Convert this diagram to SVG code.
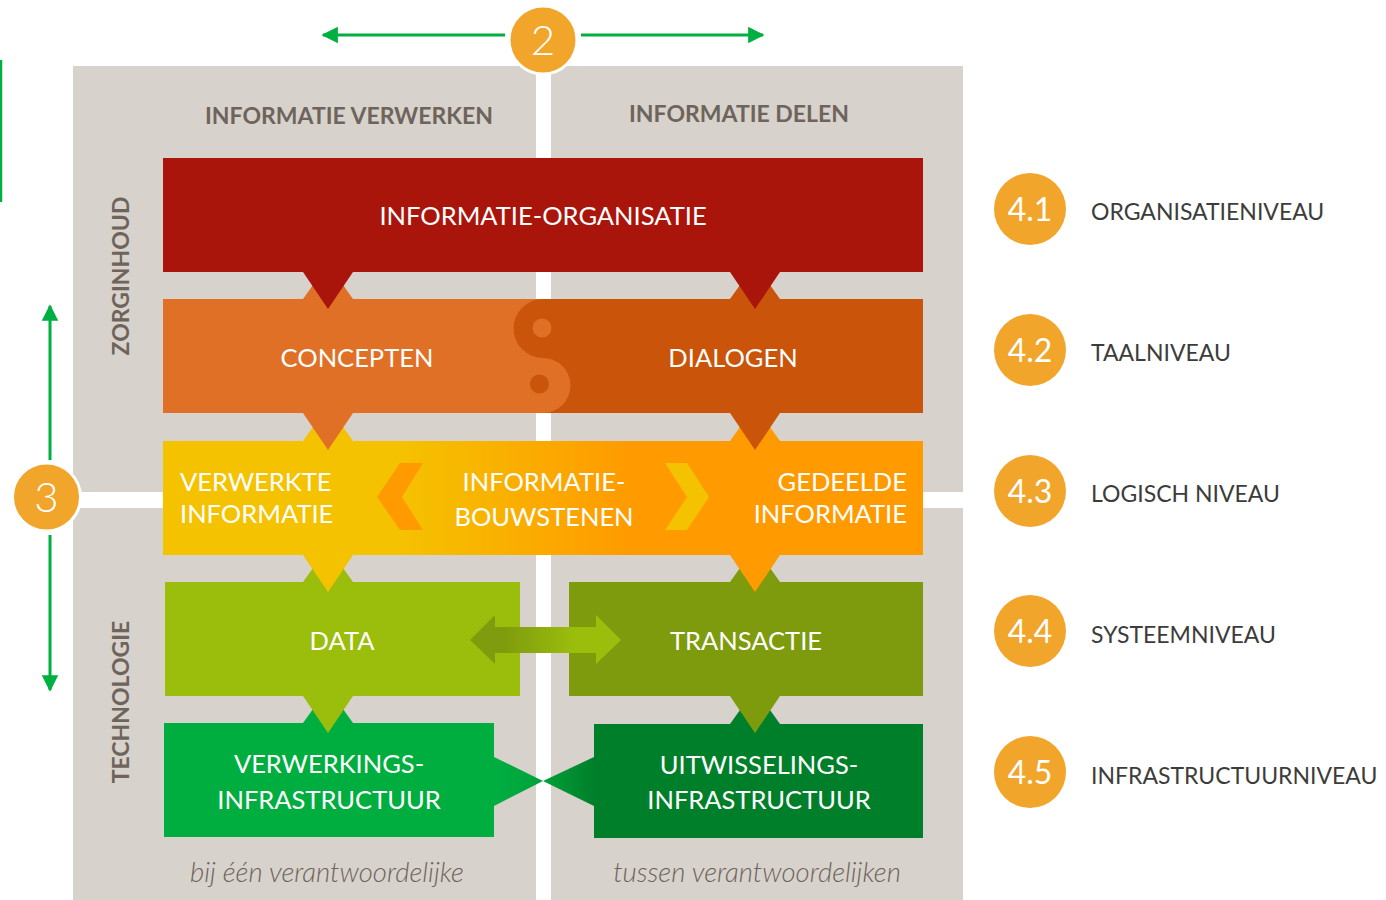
<svg xmlns="http://www.w3.org/2000/svg" width="1386" height="900" viewBox="0 0 1386 900">
<defs>
<style>
.band{font-family:Lato,"Noto Sans",sans-serif;font-size:25.5px;fill:#fff;}
.hdr{font-family:Lato,"Noto Sans",sans-serif;font-size:23px;font-weight:700;fill:#6E645B;}
.it{font-family:Lato,"Noto Sans",sans-serif;font-size:27.5px;font-style:italic;font-weight:300;fill:#6E645B;}
.lbl{font-family:Lato,"Noto Sans",sans-serif;font-size:23px;fill:#3C3C3B;}
.num{font-family:Lato,"Noto Sans",sans-serif;font-size:32px;fill:#fff;}
.big{font-family:Lato,"Noto Sans",sans-serif;font-size:42px;font-weight:300;fill:#fff;}
.circ{fill:#F2A52B;stroke:#fff;stroke-width:3;}
.garrow{stroke:#00AF41;stroke-width:3;fill:none;}
</style>
<linearGradient id="g3" gradientUnits="userSpaceOnUse" x1="163" y1="0" x2="923" y2="0">
<stop offset="0" stop-color="#F5C200"/><stop offset="0.31" stop-color="#F5C200"/><stop offset="0.62" stop-color="#FF9A00"/><stop offset="1" stop-color="#FF9A00"/>
</linearGradient>
<linearGradient id="garr" gradientUnits="userSpaceOnUse" x1="505" y1="0" x2="575" y2="0">
<stop offset="0" stop-color="#7F9C0E"/><stop offset="1" stop-color="#9BBE0C"/>
</linearGradient>
<linearGradient id="gbl" gradientUnits="userSpaceOnUse" x1="494" y1="0" x2="543" y2="0">
<stop offset="0" stop-color="#00AE40"/><stop offset="1" stop-color="#00A23A"/>
</linearGradient>
<linearGradient id="gbr" gradientUnits="userSpaceOnUse" x1="594" y1="0" x2="543" y2="0">
<stop offset="0" stop-color="#007F2B"/><stop offset="1" stop-color="#00A038"/>
</linearGradient>
<marker id="ah" viewBox="0 0 10 10" refX="9" refY="5" markerWidth="5.5" markerHeight="5.5" orient="auto" markerUnits="strokeWidth">
<path d="M0,0 L10,5 L0,10 Z" fill="#00AF41"/>
</marker>
</defs>
<rect width="1386" height="900" fill="#fff"/>

<g id="panels">
<rect x="73" y="66" width="890" height="834" fill="#D7D2CC"/>
<rect x="536" y="66" width="15" height="834" fill="#fff"/>
<rect x="60" y="492" width="903" height="16" fill="#fff"/>
<text class="hdr" x="349" y="124" text-anchor="middle">INFORMATIE VERWERKEN</text>
<text class="hdr" x="739" y="122" text-anchor="middle">INFORMATIE DELEN</text>
<text class="hdr" transform="translate(129,276) rotate(-90)" text-anchor="middle">ZORGINHOUD</text>
<text class="hdr" transform="translate(129,702) rotate(-90)" text-anchor="middle">TECHNOLOGIE</text>
<text class="it" x="327" y="882" text-anchor="middle">bij één verantwoordelijke</text>
<text class="it" x="757" y="882" text-anchor="middle">tussen verantwoordelijken</text>
</g>

<g id="connectors">
<line class="garrow" x1="505" y1="35" x2="323" y2="35" marker-end="url(#ah)"/>
<line class="garrow" x1="581" y1="35" x2="763" y2="35" marker-end="url(#ah)"/>
<line class="garrow" x1="50" y1="460" x2="50" y2="306" marker-end="url(#ah)"/>
<line class="garrow" x1="50" y1="535" x2="50" y2="690" marker-end="url(#ah)"/>
<line x1="1" y1="60" x2="1" y2="202" stroke="#00AF41" stroke-width="2.5"/>
</g>

<g id="organisatie">
<rect x="163" y="158" width="760" height="114" fill="#AA150B"/>
<text class="band" x="543" y="225" text-anchor="middle">INFORMATIE-ORGANISATIE</text>
</g>

<g id="concepten-dialogen">
<rect x="163" y="299" width="380" height="114" fill="#E07026"/>
<rect x="543" y="299" width="380" height="114" fill="#C9540A"/>
<polygon points="303,299 313,285 343,285 353,299" fill="#E07026"/>
<polygon points="730,299 740,285 770,285 780,299" fill="#C9540A"/>
<path d="M543,299 A29.5,29.5 0 0 0 543,358 Z" fill="#C9540A"/>
<path d="M543,358 A27.5,27.5 0 0 1 543,413 Z" fill="#E07026"/>
<circle cx="542" cy="328" r="9.5" fill="#E07026"/>
<circle cx="539.5" cy="384" r="9.5" fill="#C9540A"/>
<text class="band" x="357" y="367" text-anchor="middle">CONCEPTEN</text>
<text class="band" x="733" y="367" text-anchor="middle">DIALOGEN</text>
</g>

<g id="bouwstenen">
<rect x="163" y="441" width="760" height="114" fill="url(#g3)"/>
<polygon points="303,441 313,427 343,427 353,441" fill="url(#g3)"/>
<polygon points="730,441 740,427 770,427 780,441" fill="url(#g3)"/>
<polygon points="400,463 423,463 402,497 423,530 400,530 377,497" fill="#FF9A00"/>
<polygon points="665,463 687,463 709,497 687,530 665,530 687,497" fill="#F5C200"/>
<text class="band" x="180" y="491">VERWERKTE</text>
<text class="band" x="180" y="523">INFORMATIE</text>
<text class="band" x="544" y="491" text-anchor="middle">INFORMATIE-</text>
<text class="band" x="544" y="526" text-anchor="middle">BOUWSTENEN</text>
<text class="band" x="907" y="491" text-anchor="end">GEDEELDE</text>
<text class="band" x="907" y="523" text-anchor="end">INFORMATIE</text>
</g>

<g id="data">
<rect x="165" y="582" width="355" height="114" fill="#9BBE0C"/>
<polygon points="303,582 313,568 343,568 353,582" fill="#9BBE0C"/>
<text class="band" x="342" y="650" text-anchor="middle">DATA</text>
</g>

<g id="transactie">
<rect x="569" y="582" width="354" height="114" fill="#7D9B0D"/>
<polygon points="730,582 740,568 770,568 780,582" fill="#7D9B0D"/>
<text class="band" x="746" y="650" text-anchor="middle">TRANSACTIE</text>
</g>

<g id="data-transactie-arrow">
<polygon points="470,640 495,615 495,627 596,627 596,615 621,640 596,664 596,653 495,653 495,664" fill="url(#garr)"/>
</g>

<g id="verwerkings">
<rect x="164" y="723" width="330" height="114" fill="#00AE40"/>
<polygon points="303,723 313,709 343,709 353,723" fill="#00AE40"/>
<polygon points="494,757 543,781 494,806" fill="url(#gbl)"/>
<text class="band" x="329" y="773" text-anchor="middle">VERWERKINGS-</text>
<text class="band" x="329" y="809" text-anchor="middle">INFRASTRUCTUUR</text>
</g>

<g id="uitwisselings">
<rect x="594" y="724" width="329" height="114" fill="#007F2B"/>
<polygon points="730,724 740,710 770,710 780,724" fill="#007F2B"/>
<polygon points="594,757 543,781 594,806" fill="url(#gbr)"/>
<text class="band" x="759" y="774" text-anchor="middle">UITWISSELINGS-</text>
<text class="band" x="759" y="809" text-anchor="middle">INFRASTRUCTUUR</text>
</g>

<g id="triangles">
<polygon points="303,272 353,272 328,309" fill="#AA150B"/>
<polygon points="730,272 780,272 755,309" fill="#AA150B"/>
<polygon points="303,413 353,413 328,450" fill="#E07026"/>
<polygon points="730,413 780,413 755,450" fill="#C9540A"/>
<polygon points="303,555 353,555 328,592" fill="#F5C200"/>
<polygon points="730,555 780,555 755,592" fill="#FF9A00"/>
<polygon points="303,696 353,696 328,733" fill="#9BBE0C"/>
<polygon points="730,696 780,696 755,733" fill="#7D9B0D"/>
</g>

<g id="circle-2">
<circle class="circ" cx="543" cy="40" r="34"/>
<text class="big" x="543" y="55" text-anchor="middle">2</text>
</g>
<g id="circle-3">
<circle class="circ" cx="46.5" cy="497" r="34"/>
<text class="big" x="46.5" y="512" text-anchor="middle">3</text>
</g>

<g id="legend-4-1">
<circle cx="1030" cy="209" r="36" fill="#F2A52B"/>
<text class="num" x="1030" y="221" text-anchor="middle">4.1</text>
<text class="lbl" x="1091" y="220">ORGANISATIENIVEAU</text>
</g>
<g id="legend-4-2">
<circle cx="1030" cy="350" r="36" fill="#F2A52B"/>
<text class="num" x="1030" y="362" text-anchor="middle">4.2</text>
<text class="lbl" x="1091" y="361">TAALNIVEAU</text>
</g>
<g id="legend-4-3">
<circle cx="1030" cy="491" r="36" fill="#F2A52B"/>
<text class="num" x="1030" y="503" text-anchor="middle">4.3</text>
<text class="lbl" x="1091" y="502">LOGISCH NIVEAU</text>
</g>
<g id="legend-4-4">
<circle cx="1030" cy="631" r="36" fill="#F2A52B"/>
<text class="num" x="1030" y="643" text-anchor="middle">4.4</text>
<text class="lbl" x="1091" y="643">SYSTEEMNIVEAU</text>
</g>
<g id="legend-4-5">
<circle cx="1030" cy="772" r="36" fill="#F2A52B"/>
<text class="num" x="1030" y="784" text-anchor="middle">4.5</text>
<text class="lbl" x="1091" y="784">INFRASTRUCTUURNIVEAU</text>
</g>
</svg>
